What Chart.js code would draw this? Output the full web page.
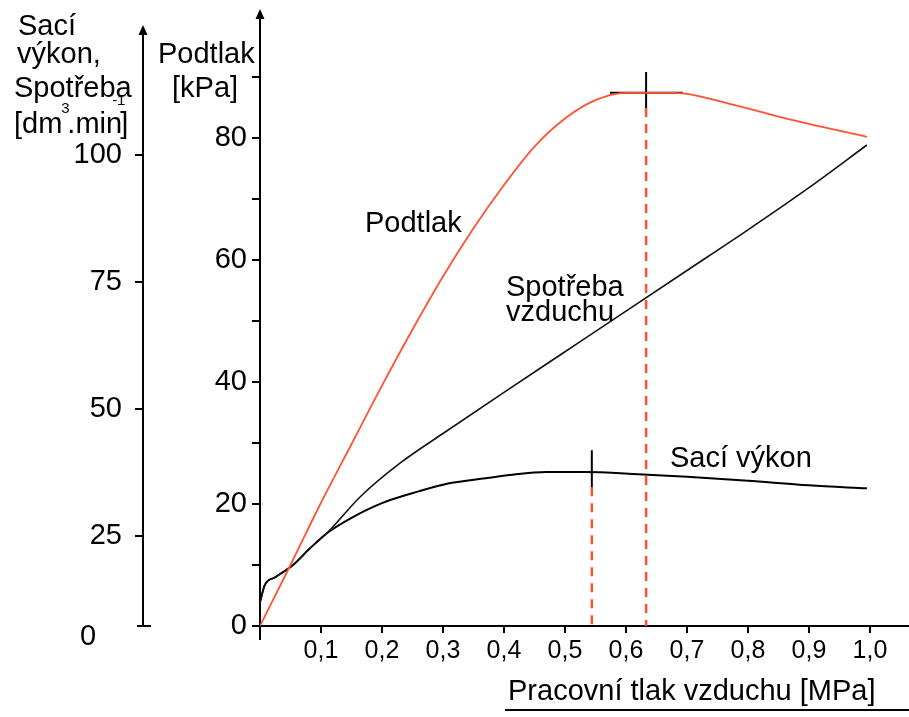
<!DOCTYPE html>
<html>
<head>
<meta charset="utf-8">
<script src="https://cdn.jsdelivr.net/npm/chart.js@4.4.1/dist/chart.umd.min.js"></script>
<style>
  html, body { margin: 0; padding: 0; background: #fff; }
  canvas { display: block; }
</style>
</head>
<body>
<canvas id="chart" width="909" height="717"></canvas>
<script>
// x axis: working air pressure [MPa]
const pressureTicks = [0.1, 0.2, 0.3, 0.4, 0.5, 0.6, 0.7, 0.8, 0.9, 1.0];
// inner axis: Podtlak [kPa]
const podtlakTicks = [0, 10, 20, 30, 40, 50, 60, 70, 80, 90];
// outer axis: Sací výkon, Spotřeba [dm3/min]
const flowTicks = [25, 50, 75, 100];

const podtlakX   = [0, 0.05, 0.1, 0.15, 0.2, 0.25, 0.3, 0.35, 0.4, 0.45, 0.5, 0.55, 0.6, 0.68, 0.77, 0.87, 0.995];
const podtlakKPa = [0, 10, 20.2, 29.8, 39.4, 48.6, 57.3, 65.2, 72.3, 78.6, 83.2, 86.2, 87.4, 87.4, 85.6, 83, 80.2];

const saciX    = [0, 0.008, 0.025, 0.054, 0.082, 0.11, 0.15, 0.2, 0.26, 0.31, 0.37, 0.42, 0.47, 0.53, 0.62, 0.7, 0.8, 0.9, 0.995];
const saciFlow = [12.0, 15.4, 16.9, 19.3, 22.6, 25.6, 28.6, 31.5, 33.8, 35.4, 36.4, 37.2, 37.6, 37.6, 37.2, 36.7, 35.9, 35.0, 34.4];

const spotrebaX    = [0, 0.008, 0.025, 0.054, 0.082, 0.11, 0.164, 0.23, 0.3, 0.4, 0.5, 0.6, 0.7, 0.8, 0.9, 0.995];
const spotrebaFlow = [12.0, 15.4, 16.9, 19.3, 22.6, 25.6, 32.7, 39.4, 45.2, 53.3, 61.3, 69.3, 77.3, 85.3, 93.6, 102];

// optimum markers
const peakX = 0.633;
const peakBarX = [0.574, 0.693];
const peakBarKPa = [87.4, 87.4];
const peakTickKPa = [90.8, 84.9];
const peakDropKPa = [84.9, 0];
const saciPeakX = 0.544;
const saciTickFlow = [41.9, 34.6];
const saciDropFlow = [34.6, 7.3];

// outer scale in the drawing: 25..100 evenly spaced, bottom end labelled 0
const flowMin = 7.3;
const flowMax = 127.4;

const FONT = '"Liberation Sans", Arial, sans-serif';
const RED = 'rgb(255, 82, 52)';

const pts = (xs, ys) => xs.map((x, i) => ({ x, y: ys[i] }));
const vline = (x, ys) => ys.map(y => ({ x, y }));

const decorations = {
  id: 'decorations',
  afterDraw(chart) {
    const { ctx, chartArea, scales } = chart;
    const yOut = scales.y2;
    const ax = chartArea.left, bottom = chartArea.bottom;
    const ox = yOut.right;
    ctx.save();
    ctx.strokeStyle = '#000';
    ctx.fillStyle = '#000';
    ctx.lineWidth = 2;
    // inner axis extensions + x axis stub
    ctx.beginPath();
    ctx.moveTo(ax, chartArea.top); ctx.lineTo(ax, 14);
    ctx.moveTo(ax, bottom); ctx.lineTo(ax, 640);
    ctx.moveTo(ax - 7, bottom); ctx.lineTo(ax, bottom);
    // outer axis
    ctx.moveTo(ox, 30); ctx.lineTo(ox, bottom);
    ctx.moveTo(ox - 6, bottom); ctx.lineTo(ox + 8, bottom);
    ctx.stroke();
    // arrow heads
    [[ax, 9], [ox, 25]].forEach(([x, t]) => {
      ctx.beginPath();
      ctx.moveTo(x, t); ctx.lineTo(x - 4.5, t + 10); ctx.lineTo(x + 4.5, t + 10);
      ctx.closePath(); ctx.fill();
    });

    ctx.font = '29px ' + FONT;
    ctx.textBaseline = 'alphabetic';
    ctx.textAlign = 'left';
    // outer axis title
    ctx.fillText('Sací', 18, 35);
    ctx.fillText('výkon,', 17, 63);
    ctx.fillText('Spotřeba', 14, 97);
    let tx = 14;
    ctx.fillText('[dm', tx, 133); tx += ctx.measureText('[dm').width;
    ctx.font = '15px ' + FONT;
    ctx.fillText('3', tx - 1, 113); tx += 5;
    ctx.font = '29px ' + FONT;
    ctx.fillText('.min', tx, 133); tx += ctx.measureText('.min').width;
    ctx.font = '15px ' + FONT;
    ctx.fillText('-1', tx - 10, 105);
    ctx.font = '29px ' + FONT;
    ctx.fillText(']', tx - 2, 133);
    // outer bottom label
    ctx.textAlign = 'center';
    ctx.fillText('0', 88, 645);
    ctx.textAlign = 'left';
    // inner axis title
    ctx.fillText('Podtlak', 158, 63);
    ctx.fillText('[kPa]', 172, 97);
    // curve labels
    ctx.fillText('Podtlak', 365, 232);
    ctx.fillText('Spotřeba', 506, 296);
    ctx.fillText('vzduchu', 506, 321);
    ctx.fillText('Sací výkon', 670, 467);
    // x axis title, underlined
    ctx.fillText('Pracovní tlak vzduchu [MPa]', 508, 700);
    ctx.beginPath();
    ctx.moveTo(505, 710); ctx.lineTo(909, 710);
    ctx.stroke();
    ctx.restore();
  }
};

const noPad = s => { s.paddingTop = 0; s.paddingBottom = 0; s.paddingLeft = 0; s.paddingRight = 0; };

new Chart(document.getElementById('chart'), {
  type: 'line',
  data: {
    datasets: [
      {
        label: 'Podtlak',
        data: pts(podtlakX, podtlakKPa),
        yAxisID: 'y',
        borderColor: RED,
        borderWidth: 1.8,
        cubicInterpolationMode: 'monotone',
        order: 0
      },
      {
        label: 'Spotřeba vzduchu',
        data: pts(spotrebaX, spotrebaFlow),
        yAxisID: 'y2',
        borderColor: '#111',
        borderWidth: 1.6,
        cubicInterpolationMode: 'monotone',
        order: 1
      },
      {
        label: 'Sací výkon',
        data: pts(saciX, saciFlow),
        yAxisID: 'y2',
        borderColor: '#000',
        borderWidth: 2,
        cubicInterpolationMode: 'monotone',
        order: 1
      },
      {
        label: 'max podtlak',
        data: pts(peakBarX, peakBarKPa),
        yAxisID: 'y',
        borderColor: '#000',
        borderWidth: 2,
        order: 2
      },
      {
        label: 'max podtlak tick',
        data: vline(peakX, peakTickKPa),
        yAxisID: 'y',
        borderColor: '#000',
        borderWidth: 2,
        order: 2
      },
      {
        label: 'max podtlak drop',
        data: vline(peakX, peakDropKPa),
        yAxisID: 'y',
        borderColor: RED,
        borderWidth: 2.5,
        borderDash: [9, 7],
        order: 3
      },
      {
        label: 'max sací tick',
        data: vline(saciPeakX, saciTickFlow),
        yAxisID: 'y2',
        borderColor: '#000',
        borderWidth: 2,
        order: 2
      },
      {
        label: 'max sací drop',
        data: vline(saciPeakX, saciDropFlow),
        yAxisID: 'y2',
        borderColor: RED,
        borderWidth: 2.5,
        borderDash: [9, 7],
        order: 3
      }
    ]
  },
  options: {
    responsive: false,
    animation: false,
    layout: { padding: { top: 16, left: 0, right: 0, bottom: 0 } },
    elements: { point: { radius: 0 } },
    plugins: { legend: { display: false }, tooltip: { enabled: false } },
    scales: {
      x: {
        type: 'linear',
        min: 0,
        max: 1.064,
        border: { color: '#000', width: 2 },
        grid: { drawOnChartArea: false, color: '#000', lineWidth: 2, tickLength: 7 },
        ticks: {
          color: '#000',
          font: { family: FONT, size: 25 },
          padding: 3,
          maxRotation: 0,
          callback: v => v.toFixed(1).replace('.', ',')
        },
        afterBuildTicks: s => { s.ticks = pressureTicks.map(v => ({ value: v })); },
        afterFit: s => { s.height = 91; noPad(s); }
      },
      y: {
        position: 'left',
        weight: 0,
        min: 0,
        max: 100,
        border: { color: '#000', width: 2 },
        grid: { drawOnChartArea: false, color: '#000', lineWidth: 2, tickLength: 8 },
        ticks: {
          color: '#000',
          font: { family: FONT, size: 29 },
          padding: 5,
          callback: v => (v % 20 === 0 ? String(v) : '')
        },
        afterBuildTicks: s => { s.ticks = podtlakTicks.map(v => ({ value: v })); },
        afterFit: s => { s.width = 117; noPad(s); }
      },
      y2: {
        position: 'left',
        weight: 1,
        min: flowMin,
        max: flowMax,
        border: { display: false },
        grid: { drawOnChartArea: false, color: '#000', lineWidth: 2, tickLength: 8 },
        ticks: {
          color: '#000',
          font: { family: FONT, size: 29 },
          padding: 13
        },
        afterBuildTicks: s => { s.ticks = flowTicks.map(v => ({ value: v })); },
        afterFit: s => { s.width = 143; noPad(s); }
      }
    }
  },
  plugins: [decorations]
});
</script>
</body>
</html>
